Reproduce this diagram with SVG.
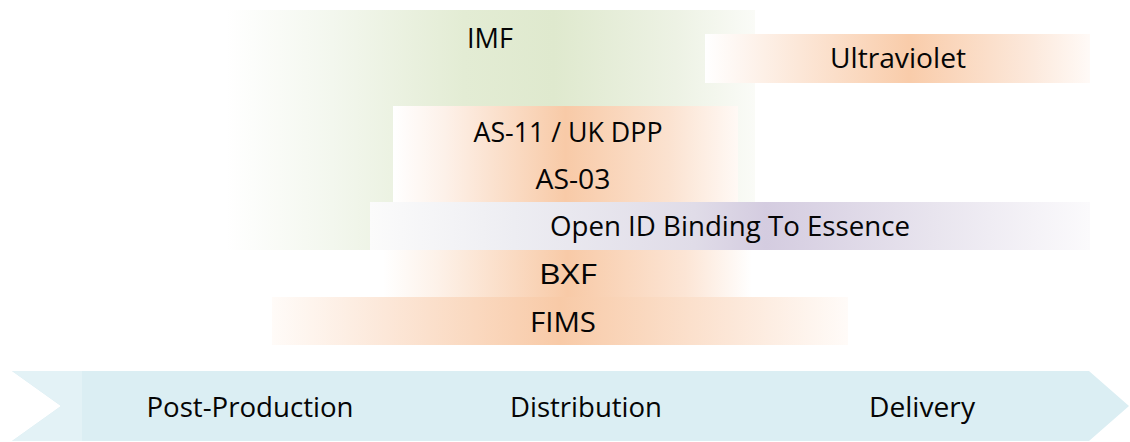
<svg xmlns="http://www.w3.org/2000/svg" width="1130" height="442" viewBox="0 0 1130 442">
<defs>
<linearGradient id="gIMF" gradientUnits="userSpaceOnUse" x1="226" y1="0" x2="755" y2="0">
<stop offset="0" stop-color="#FFFFFF"/>
<stop offset="0.2" stop-color="#F3F7EE"/>
<stop offset="0.45" stop-color="#E3ECD4"/>
<stop offset="0.62" stop-color="#DFE9CE"/>
<stop offset="0.85" stop-color="#EDF2E4"/>
<stop offset="1" stop-color="#FAFBF7"/>
</linearGradient>
<linearGradient id="gUV" gradientUnits="userSpaceOnUse" x1="705" y1="0" x2="1090" y2="0">
<stop offset="0" stop-color="#FFFFFF"/>
<stop offset="0.15" stop-color="#FDF0E7"/>
<stop offset="0.53" stop-color="#F9CCAA"/>
<stop offset="0.85" stop-color="#FCE9DC"/>
<stop offset="1" stop-color="#FFFAF7"/>
</linearGradient>
<linearGradient id="gAS" gradientUnits="userSpaceOnUse" x1="393" y1="0" x2="738" y2="0">
<stop offset="0" stop-color="#FFFFFF"/>
<stop offset="0.15" stop-color="#FDF1E9"/>
<stop offset="0.5" stop-color="#F8CAA7"/>
<stop offset="0.8" stop-color="#FBE2D0"/>
<stop offset="1" stop-color="#FFF9F5"/>
</linearGradient>
<linearGradient id="gOID" gradientUnits="userSpaceOnUse" x1="370" y1="0" x2="1090" y2="0">
<stop offset="0" stop-color="#FBFBFB"/>
<stop offset="0.2" stop-color="#EDEDF2"/>
<stop offset="0.45" stop-color="#E0DCE8"/>
<stop offset="0.55" stop-color="#D4CCE0"/>
<stop offset="0.78" stop-color="#E8E4EE"/>
<stop offset="1" stop-color="#FBFAFC"/>
</linearGradient>
<linearGradient id="gBXF" gradientUnits="userSpaceOnUse" x1="383" y1="0" x2="752" y2="0">
<stop offset="0" stop-color="#FFFFFF"/>
<stop offset="0.15" stop-color="#FDF1E8"/>
<stop offset="0.5" stop-color="#F8CAA7"/>
<stop offset="0.82" stop-color="#FCE5D5"/>
<stop offset="1" stop-color="#FFFFFF"/>
</linearGradient>
<linearGradient id="gFIMS" gradientUnits="userSpaceOnUse" x1="272" y1="0" x2="848" y2="0">
<stop offset="0" stop-color="#FFFBF8"/>
<stop offset="0.2" stop-color="#FCE7D8"/>
<stop offset="0.5" stop-color="#F8CAA7"/>
<stop offset="0.8" stop-color="#FCE7D8"/>
<stop offset="1" stop-color="#FFFBF8"/>
</linearGradient>
</defs>
<style>
text{font-family:"Open Sans","Noto Sans","Liberation Sans",sans-serif;font-size:28px;fill:#050505;text-anchor:middle}
</style>
<g id="IMF">
<rect x="226" y="10" width="529" height="240" fill="url(#gIMF)"/>
<text x="490" y="48" textLength="46" lengthAdjust="spacingAndGlyphs">IMF</text>
</g>
<g id="Ultraviolet">
<rect x="705" y="34" width="385" height="49" fill="url(#gUV)"/>
<text x="898" y="68" textLength="136" lengthAdjust="spacingAndGlyphs">Ultraviolet</text>
</g>
<g id="AS">
<rect x="393" y="106" width="345" height="96" fill="url(#gAS)"/>
<text x="568" y="142" textLength="189" lengthAdjust="spacingAndGlyphs">AS-11 / UK DPP</text>
<text x="573" y="189" textLength="75" lengthAdjust="spacingAndGlyphs">AS-03</text>
</g>
<g id="OpenID">
<rect x="370" y="202" width="720" height="48" fill="url(#gOID)"/>
<text x="730" y="236" textLength="360" lengthAdjust="spacingAndGlyphs">Open ID Binding To Essence</text>
</g>
<g id="BXF">
<rect x="383" y="250" width="369" height="47" fill="url(#gBXF)"/>
<text x="568" y="284" textLength="58" lengthAdjust="spacingAndGlyphs">BXF</text>
</g>
<g id="FIMS">
<rect x="272" y="297" width="576" height="48" fill="url(#gFIMS)"/>
<text x="563" y="332" textLength="66" lengthAdjust="spacingAndGlyphs">FIMS</text>
</g>
<g id="Timeline">
<polygon points="12,371 1089,371 1129,406 1089,441 12,441 61,406" fill="#DBEEF3"/>
<polygon points="12,371 82,371 82,441 12,441 61,406" fill="#E3F2F6"/>
<text x="250" y="417" textLength="207" lengthAdjust="spacingAndGlyphs">Post-Production</text>
<text x="586" y="417" textLength="152" lengthAdjust="spacingAndGlyphs">Distribution</text>
<text x="922" y="417" textLength="106" lengthAdjust="spacingAndGlyphs">Delivery</text>
</g>
<g id="connectors"/>
</svg>
